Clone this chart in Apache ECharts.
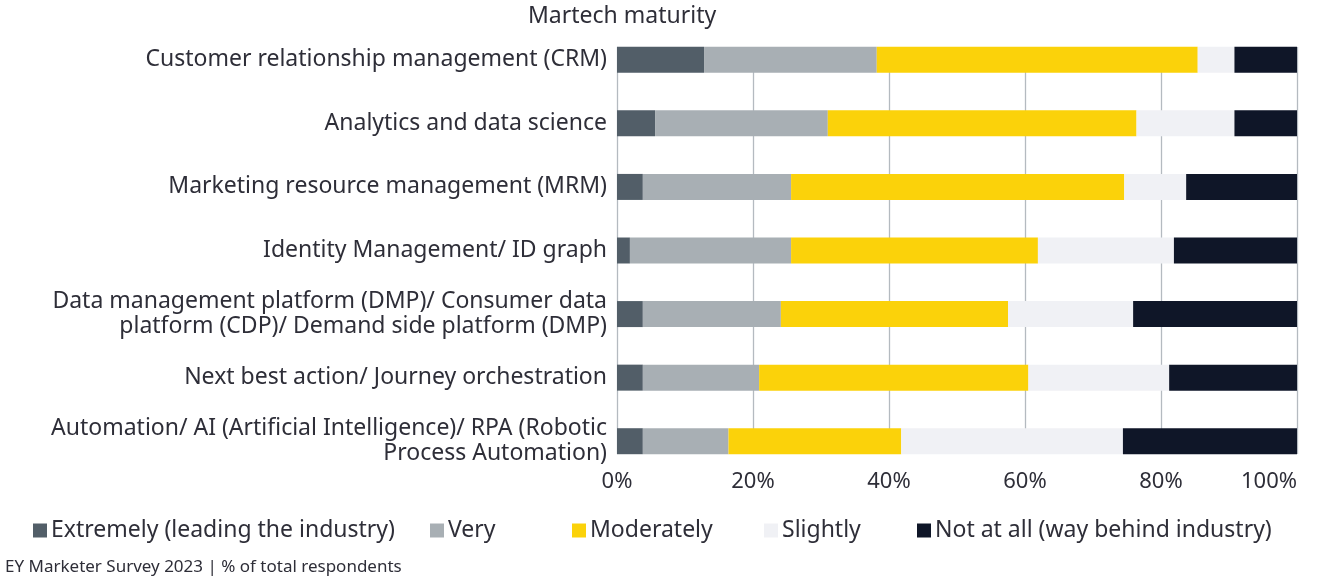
<!DOCTYPE html>
<html>
<head>
<meta charset="utf-8">
<script src="https://cdn.jsdelivr.net/npm/echarts@6/dist/echarts.min.js"></script>
<style>
  html, body { margin: 0; padding: 0; background: #fff; }
  #chart { width: 1339px; height: 581px; }
</style>
</head>
<body>
<div id="chart"></div>
<script>
var categories = [
  'Customer relationship management (CRM)',
  'Analytics and data science',
  'Marketing resource management (MRM)',
  'Identity Management/ ID graph',
  'Data management platform (DMP)/ Consumer data\nplatform (CDP)/ Demand side platform (DMP)',
  'Next best action/ Journey orchestration',
  'Automation/ AI (Artificial Intelligence)/ RPA (Robotic\nProcess Automation)'
];
var seriesNames = ['Extremely (leading the industry)', 'Very', 'Moderately', 'Slightly', 'Not at all (way behind industry)'];
var extremely = [12.8, 5.6, 3.8, 1.9, 3.8, 3.8, 3.8];
var very = [25.4, 25.4, 21.8, 23.7, 20.3, 17.1, 12.6];
var moderately = [47.2, 45.4, 49.0, 36.3, 33.4, 39.6, 25.4];
var slightly = [5.4, 14.4, 9.1, 20.0, 18.4, 20.7, 32.6];
var notAtAll = [9.2, 9.2, 16.3, 18.1, 24.1, 18.8, 25.6];
var xTicks = [0, 20, 40, 60, 80, 100];

var colors = ['#525e68', '#a8afb4', '#fbd20a', '#f0f1f5', '#0f1628'];
var values = [extremely, very, moderately, slightly, notAtAll];
var font = 'Noto Sans';
var textColor = '#2e2e38';

var chart = echarts.init(document.getElementById('chart'));

var legendLeft = [33, 430, 572, 764, 917];
var legends = seriesNames.map(function (n, i) {
  return {
    data: [n],
    left: legendLeft[i],
    top: 519,
    padding: 0,
    icon: 'rect',
    itemWidth: 14,
    itemHeight: 14,
    selectedMode: false,
    textStyle: { fontFamily: font, fontSize: 23, color: textColor, padding: [0, 0, 0, -1] }
  };
});

chart.setOption({
  animation: false,
  color: colors,
  title: [
    {
      text: 'Martech maturity',
      left: 528, top: 5, padding: 0,
      textStyle: { fontFamily: font, fontSize: 23, fontWeight: 'normal', color: textColor }
    },
    {
      text: 'EY Marketer Survey 2023 | % of total respondents',
      left: 5, top: 559, padding: 0,
      textStyle: { fontFamily: font, fontSize: 17, fontWeight: 'normal', color: textColor }
    }
  ],
  legend: legends,
  grid: [
    { left: 617, right: 42, top: 28, height: 445 },
    { left: 617, right: 42, top: 47, height: 407 }
  ],
  xAxis: [
    { type: 'value', gridIndex: 0, min: 0, max: 100, show: false },
    {
      type: 'value', gridIndex: 1, min: xTicks[0], max: xTicks[xTicks.length - 1], interval: 20,
      axisLine: { show: false },
      axisTick: { show: false },
      splitLine: { show: true, lineStyle: { color: '#b4bac0', width: 1.3 } },
      axisLabel: {
        formatter: '{value}%', margin: 17,
        fontFamily: font, fontSize: 22, color: textColor,
        alignMaxLabel: 'right'
      }
    }
  ],
  yAxis: [
    {
      type: 'category', gridIndex: 0, inverse: true, data: categories,
      axisLine: { show: false },
      axisTick: { show: false },
      splitLine: { show: false },
      axisLabel: {
        margin: 10, fontFamily: font, fontSize: 23, color: textColor,
        lineHeight: 25, align: 'right'
      }
    },
    { type: 'value', gridIndex: 1, show: false }
  ],
  series: values.map(function (v, i) {
    return {
      name: seriesNames[i],
      type: 'bar',
      stack: 'total',
      xAxisIndex: 0,
      yAxisIndex: 0,
      barWidth: 26,
      data: v,
      itemStyle: { color: colors[i] }
    };
  })
});
</script>
</body>
</html>
